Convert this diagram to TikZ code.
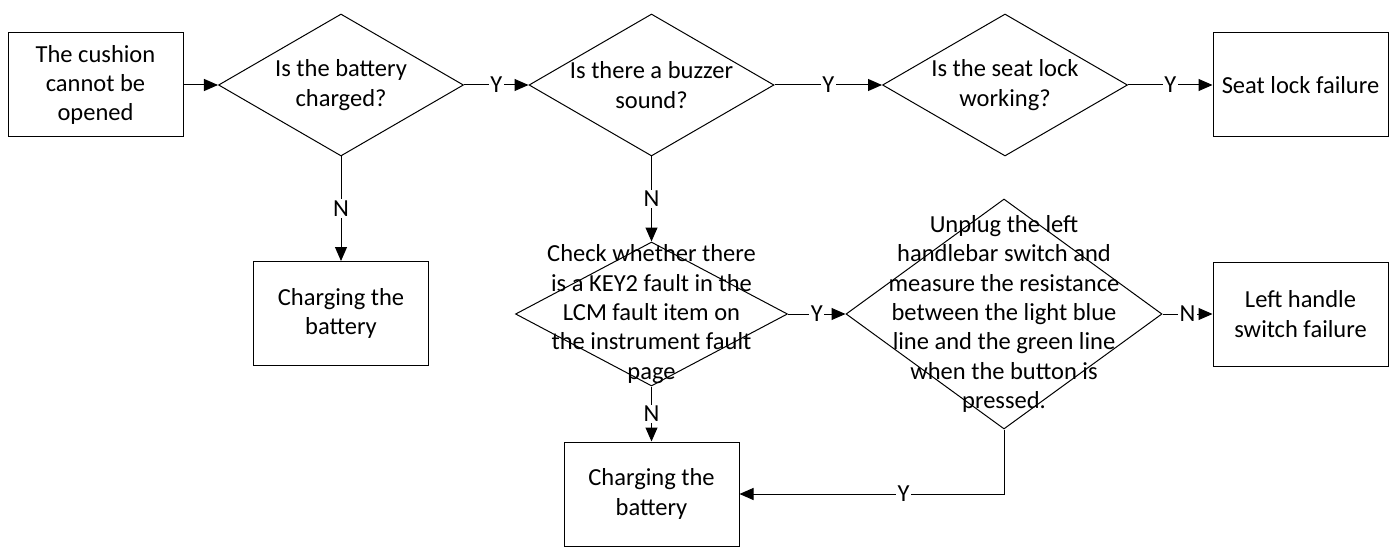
\documentclass[tikz,border=0pt]{standalone}
\usepackage{fontspec}
\setmainfont{Carlito}
\usetikzlibrary{shapes.geometric,arrows.meta}
\begin{document}
\begin{tikzpicture}[x=1pt,y=-1pt,
  every node/.style={font=\fontsize{24.5}{29.3}\selectfont},
  boxnode/.style={draw,line width=1pt,minimum width=175pt,minimum height=104pt,align=center,inner sep=0pt},
  dia/.style={draw,line width=1pt,shape=diamond,inner sep=0pt},
  txt/.style={align=center,inner sep=0pt},
  conn/.style={line width=1pt,-{Triangle[length=14pt,width=12pt]}},
  lbl/.style={fill=white,inner sep=1.5pt}]
\useasboundingbox (0,0) rectangle (1396,548);
% top row
\node[boxnode] (b1) at (95.5,85) {The cushion\\cannot be\\opened};
\node[dia,minimum width=245pt,minimum height=142pt] (d1) at (341,85) {};
\node[txt] at (d1) {Is the battery\\charged?};
\node[dia,minimum width=245pt,minimum height=142pt] (d2) at (651.5,85) {};
\node[txt] at (d2) {Is there a buzzer\\sound?};
\node[dia,minimum width=245pt,minimum height=142pt] (d3) at (1005,85) {};
\node[txt] at (d3) {Is the seat lock\\working?};
\node[boxnode] (b2) at (1300.5,85) {Seat lock failure};
% middle row
\node[boxnode] (c1) at (341,313.5) {Charging the\\battery};
\node[dia,minimum width=272pt,minimum height=144pt] (d4) at (651.5,314) {};
\node[txt] at (d4) {Check whether there\\is a KEY2 fault in the\\LCM fault item on\\the instrument fault\\page};
\node[dia,minimum width=316pt,minimum height=230pt] (d5) at (1004,314) {};
\node[txt] at (d5) {Unplug the left\\handlebar switch and\\measure the resistance\\between the light blue\\line and the green line\\when the button is\\pressed.};
\node[boxnode] (b3) at (1300.5,314) {Left handle\\switch failure};
% bottom
\node[boxnode] (c2) at (651.5,494) {Charging the\\battery};
% connectors
\draw[conn] (b1) -- (d1);
\draw[conn] (d1) -- node[lbl] {Y} (d2);
\draw[conn] (d2) -- node[lbl] {Y} (d3);
\draw[conn] (d3) -- node[lbl] {Y} (b2);
\draw[conn] (d1.south) -- node[lbl] {N} (c1.north);
\draw[conn] (d2.south) -- node[lbl] {N} (d4.north);
\draw[conn] (d4) -- node[lbl] {Y} (d5);
\draw[conn] (d5) -- node[lbl] {N} (b3);
\draw[conn] (d4.south) -- node[lbl] {N} (c2.north);
\draw[conn] (d5.south) |- node[lbl,pos=0.69] {Y} (c2.east);
\end{tikzpicture}
\end{document}
